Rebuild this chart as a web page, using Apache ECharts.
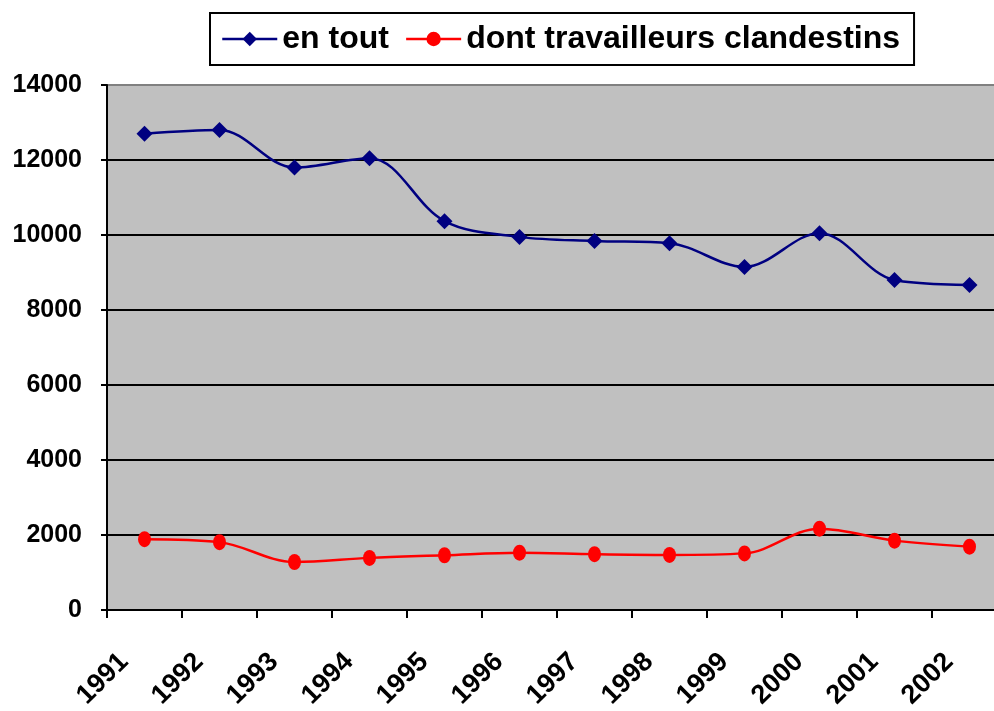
<!DOCTYPE html>
<html>
<head>
<meta charset="utf-8">
<script src="https://cdn.jsdelivr.net/npm/echarts@6/dist/echarts.min.js"></script>
<style>html,body{margin:0;padding:0;background:#fff;}#c{width:994px;height:711px;}</style>
</head>
<body>
<div id="c"></div>
<script>
const categories = ['1991','1992','1993','1994','1995','1996','1997','1998','1999','2000','2001','2002'];
const enTout = [12700, 12800, 11800, 12050, 10370, 9950, 9840, 9780, 9150, 10050, 8800, 8670];
const clandestins = [1890, 1810, 1280, 1390, 1460, 1530, 1490, 1470, 1510, 2170, 1850, 1690];
const seriesNames = ['en tout', 'dont travailleurs clandestins'];

const FONT = '"Liberation Sans", Arial, sans-serif';
const chart = echarts.init(document.getElementById('c'), null, {renderer: 'canvas'});
chart.setOption({
  animation: false,
  backgroundColor: '#ffffff',
  legend: {
    left: 210, top: 13,
    padding: [10, 14, 10, 11],
    itemGap: 16,
    itemWidth: 55, itemHeight: 18,
    borderColor: '#000', borderWidth: 2,
    backgroundColor: '#fff',
    lineStyle: {width: 2.5},
    textStyle: {fontFamily: FONT, fontWeight: 'bold', fontSize: 32, color: '#000'},
    data: seriesNames
  },
  grid: {
    left: 107, top: 85, width: 900, height: 525,
    outerBoundsMode: 'none',
    containLabel: false,
    show: true, backgroundColor: '#C0C0C0', borderWidth: 0
  },
  xAxis: {
    type: 'category',
    data: categories,
    boundaryGap: true,
    axisLine: {lineStyle: {color: '#000', width: 2}},
    axisTick: {show: true, length: 8, lineStyle: {color: '#000', width: 2}},
    axisLabel: {
      rotate: 45, interval: 0, margin: 27,
      padding: [0, 29, 0, 0],
      fontFamily: FONT, fontWeight: 'bold', fontSize: 27, color: '#000'
    },
    splitLine: {show: false}
  },
  yAxis: {
    type: 'value', min: 0, max: 14000, interval: 2000,
    axisLine: {show: true, lineStyle: {color: '#000', width: 2}},
    axisTick: {show: true, length: 6, lineStyle: {color: '#000', width: 2}},
    axisLabel: {margin: 25, fontFamily: FONT, fontWeight: 'bold', fontSize: 25, color: '#000',
      formatter: function (v) { return String(v); }},
    splitLine: {show: true, lineStyle: {color: ['#000','#000','#000','#000','#000','#000','#000','#808080'], width: 2}}
  },
  series: [
    {
      name: seriesNames[0], type: 'line', data: enTout, smooth: 0.35,
      symbol: 'diamond', symbolSize: 16,
      lineStyle: {color: '#000080', width: 2.5},
      itemStyle: {color: '#000080'}
    },
    {
      name: seriesNames[1], type: 'line', data: clandestins, smooth: 0.35,
      symbol: 'circle', symbolSize: [13, 16],
      lineStyle: {color: '#FF0000', width: 2.5},
      itemStyle: {color: '#FF0000'}
    }
  ]
});
</script>
</body>
</html>
